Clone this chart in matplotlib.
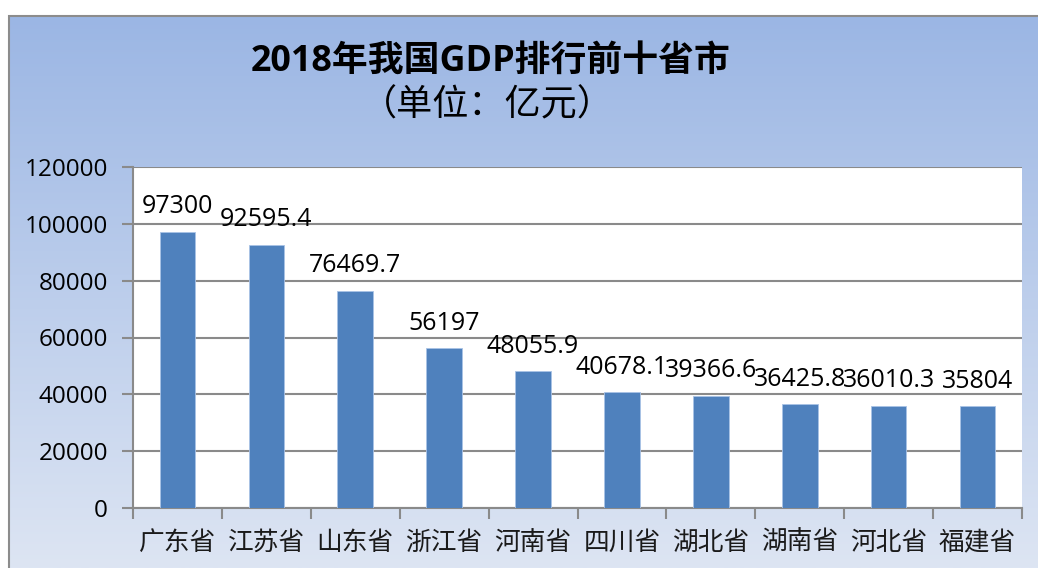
import numpy as np
import matplotlib
matplotlib.use("Agg")
import matplotlib.pyplot as plt
from matplotlib.patches import Rectangle

provinces = ["广东省", "江苏省", "山东省", "浙江省", "河南省",
             "四川省", "湖北省", "湖南省", "河北省", "福建省"]
gdp = [97300, 92595.4, 76469.7, 56197, 48055.9,
       40678.1, 39366.6, 36425.8, 36010.3, 35804]
label_text = ["97300", "92595.4", "76469.7", "56197", "48055.9",
              "40678.1", "39366.6", "36425.8", "36010.3", "35804"]
yticks = [0, 20000, 40000, 60000, 80000, 100000, 120000]

NUM = ["Open Sans", "Noto Sans CJK SC"]
CJK = ["Noto Sans CJK SC", "DejaVu Sans"]
GRID = "#8a8a8a"

W, H = 1038, 568
fig = plt.figure(figsize=(W / 100, H / 100), dpi=100, facecolor="white")

# gradient chart background with grey frame (only left/top inside the image)
bg = fig.add_axes([9 / W, 0, 1 - 9 / W, 1 - 16 / H])
top_c = np.array([155, 182, 228]) / 255
bot_c = np.array([221, 229, 243]) / 255
t = np.linspace(0, 1, 256)[:, None]
grad = (top_c[None, :] * (1 - t) + bot_c[None, :] * t)[:, None, :]
bg.imshow(grad, aspect="auto", extent=[0, 1, 0, 1], origin="upper")
bg.set_xlim(0, 1); bg.set_ylim(0, 1)
bg.axis("off")
bg.add_patch(Rectangle((0, -0.2), 1.2, 1.2, transform=bg.transAxes, fill=False,
                       edgecolor="#8c8c8c", linewidth=1.5, clip_on=False))

fig.text(491 / W, 1 - 62 / H, "2018年我国GDP排行前十省市", ha="center", va="center",
         fontsize=25.8, fontweight="bold", family=NUM)
fig.text(487 / W, 1 - 105 / H, "（单位：亿元）", ha="center", va="center",
         fontsize=26, family=CJK)

ax = fig.add_axes([133 / W, 1 - 508 / H, (1022 - 133) / W, (508 - 167) / H])
ax.set_facecolor("white")
x = np.arange(len(provinces))
ax.bar(x, gdp, width=0.4, color="#4f81bd", edgecolor="#a9c3e6", linewidth=0.6, zorder=3)
ax.set_xlim(-0.5, len(provinces) - 0.5)
ax.set_ylim(0, 120000)
ax.set_yticks(yticks)
ax.set_yticklabels([str(v) for v in yticks], family=NUM, fontsize=17.5)
ax.yaxis.grid(True, color=GRID, linewidth=1.5, zorder=1)
ax.set_axisbelow(True)

ax.set_xticks(x)
ax.set_xticklabels(provinces, family=CJK, fontsize=18.5, color="#1a1a1a")
ax.set_xticks(np.arange(-0.5, len(provinces)), minor=True)
ax.tick_params(axis="x", which="major", length=0, pad=16)
ax.tick_params(axis="x", which="minor", length=8, width=1.5, color=GRID)
ax.tick_params(axis="y", length=8, width=1.5, color=GRID, pad=10)

for s in ["top", "right"]:
    ax.spines[s].set_visible(False)
for s in ["left", "bottom"]:
    ax.spines[s].set_color(GRID)
    ax.spines[s].set_linewidth(1.5)

for xi, v, lab in zip(x, gdp, label_text):
    ax.annotate(lab, (xi, v), xytext=(0, 13.5), textcoords="offset points",
                ha="center", va="baseline", family=NUM, fontsize=18)

fig.savefig("out.png", dpi=100, facecolor="white")
